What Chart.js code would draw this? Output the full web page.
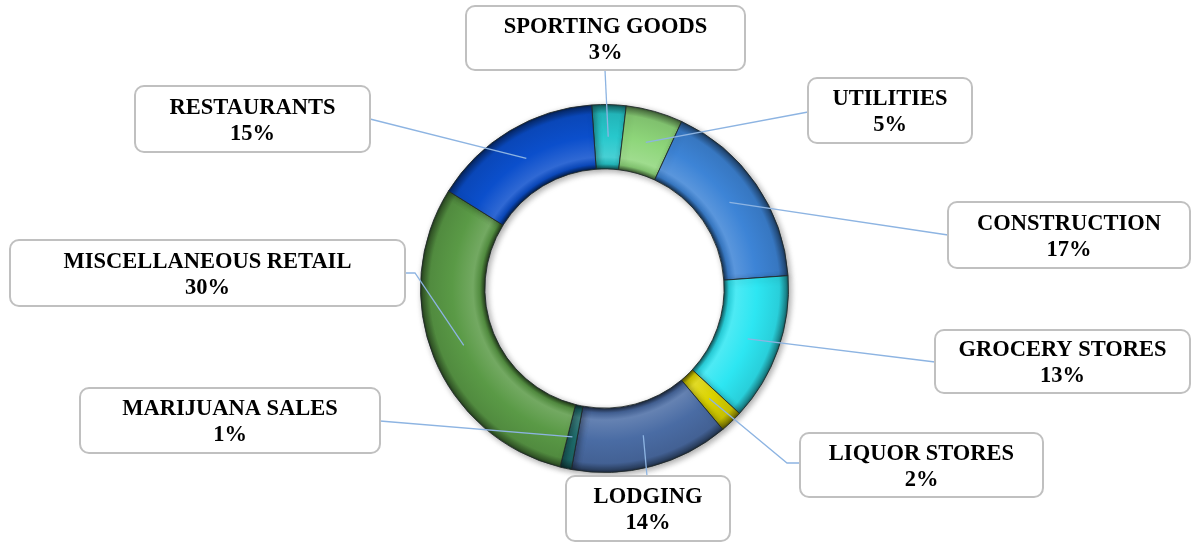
<!DOCTYPE html>
<html>
<head>
<meta charset="utf-8">
<script src="https://cdn.jsdelivr.net/npm/chart.js@4"></script>
<style>
  html, body { margin: 0; padding: 0; background: #fff; }
  #wrap { width: 1191px; height: 543px; position: relative; }
</style>
</head>
<body>
<div id="wrap"><canvas id="myChart" width="1191" height="543"></canvas></div>
<script>
// data
const categories = ["SPORTING GOODS", "UTILITIES", "CONSTRUCTION", "GROCERY STORES", "LIQUOR STORES",
  "LODGING", "MARIJUANA SALES", "MISCELLANEOUS RETAIL", "RESTAURANTS"];
const shares = [3, 5, 17, 13, 2, 14, 1, 30, 15];
const sliceColors = ["#27c8cc", "#8ed67a", "#3d84d6", "#2de6f2", "#dcd400",
  "#4a6ca4", "#1f7070", "#5a9a46", "#0b4fcc"];

// callout boxes (layout only): box rect, anchor on box edge, optional elbow
const boxes = [
  { x: 466, y: 6, w: 279, h: 64, ax: 605, ay: 70 },
  { x: 808, y: 78, w: 164, h: 65, ax: 808, ay: 112 },
  { x: 948, y: 202, w: 242, h: 66, ax: 948, ay: 235 },
  { x: 935, y: 330, w: 255, h: 63, ax: 935, ay: 362 },
  { x: 800, y: 433, w: 243, h: 64, ax: 800, ay: 463, ex: 787, ey: 463 },
  { x: 566, y: 476, w: 164, h: 65, ax: 647, ay: 476 },
  { x: 80, y: 388, w: 300, h: 65, ax: 380, ay: 421 },
  { x: 10, y: 240, w: 395, h: 66, ax: 405, ay: 273, ex: 415, ey: 273 },
  { x: 135, y: 86, w: 235, h: 66, ax: 370, ay: 119 }
];

function shade(hex, f) {
  let r = parseInt(hex.slice(1, 3), 16), g = parseInt(hex.slice(3, 5), 16), b = parseInt(hex.slice(5, 7), 16);
  if (f < 0) { r *= 1 + f; g *= 1 + f; b *= 1 + f; }
  else { r += (255 - r) * f; g += (255 - g) * f; b += (255 - b) * f; }
  return "rgb(" + Math.round(r) + "," + Math.round(g) + "," + Math.round(b) + ")";
}

// bevel look: radial gradient across the ring
function bevel(ctx) {
  const chart = ctx.chart;
  const a = chart.chartArea;
  if (!a) return sliceColors[ctx.dataIndex];
  const cx = (a.left + a.right) / 2, cy = (a.top + a.bottom) / 2;
  const outer = Math.min(a.right - a.left, a.bottom - a.top) / 2;
  const inner = outer * 0.65;
  const c = sliceColors[ctx.dataIndex];
  const g = chart.ctx.createRadialGradient(cx, cy, inner, cx, cy, outer);
  g.addColorStop(0, shade(c, -0.6));
  g.addColorStop(0.07, shade(c, -0.1));
  g.addColorStop(0.18, shade(c, 0.15));
  g.addColorStop(0.5, c);
  g.addColorStop(0.85, shade(c, -0.1));
  g.addColorStop(0.95, shade(c, -0.4));
  g.addColorStop(1, shade(c, -0.65));
  return g;
}

const calloutPlugin = {
  id: "callouts",
  afterDatasetsDraw(chart) {
    const ctx = chart.ctx;
    const arcs = chart.getDatasetMeta(0).data;
    ctx.save();
    // leader lines
    ctx.strokeStyle = "#8db4e2";
    ctx.lineWidth = 1.3;
    arcs.forEach((arc, i) => {
      const p = arc.tooltipPosition();
      const b = boxes[i];
      ctx.beginPath();
      ctx.moveTo(p.x, p.y);
      if (b.ex !== undefined) ctx.lineTo(b.ex, b.ey);
      ctx.lineTo(b.ax, b.ay);
      ctx.stroke();
    });
    // boxes + text
    ctx.font = "bold 22.5px 'Liberation Serif', 'Times New Roman', serif";
    ctx.textAlign = "center";
    ctx.textBaseline = "middle";
    boxes.forEach((b, i) => {
      ctx.beginPath();
      ctx.roundRect(b.x, b.y, b.w, b.h, 9);
      ctx.fillStyle = "#ffffff";
      ctx.fill();
      ctx.strokeStyle = "#c0c0c0";
      ctx.lineWidth = 2;
      ctx.stroke();
      ctx.fillStyle = "#000000";
      const mx = b.x + b.w / 2;
      ctx.fillText(categories[i], mx, b.y + b.h / 2 - 11);
      ctx.fillText(shares[i] + "%", mx, b.y + b.h / 2 + 15);
    });
    ctx.restore();
  }
};

const shadowPlugin = {
  id: "ringShadow",
  beforeDatasetsDraw(chart) {
    const ctx = chart.ctx;
    ctx.save();
    ctx.shadowColor = "rgba(0,0,0,0.35)";
    ctx.shadowBlur = 6;
    ctx.shadowOffsetX = 2;
    ctx.shadowOffsetY = 2;
  },
  afterDatasetsDraw(chart) {
    chart.ctx.restore();
  }
};

var ctx = document.getElementById("myChart").getContext("2d");
var myChart = new Chart(ctx, {
  type: "doughnut",
  data: {
    labels: categories,
    datasets: [
      {
        data: shares,
        backgroundColor: bevel,
        borderColor: "rgba(30,40,40,0.85)",
        borderWidth: 1
      }
    ]
  },
  plugins: [shadowPlugin, calloutPlugin],
  options: {
    responsive: false,
    animation: false,
    cutout: "65%",
    rotation: -4,
    layout: { padding: { top: 104, bottom: 70, left: 18, right: 0 } },
    plugins: {
      legend: { display: false },
      tooltip: { enabled: false }
    }
  }
});
</script>
</body>
</html>
